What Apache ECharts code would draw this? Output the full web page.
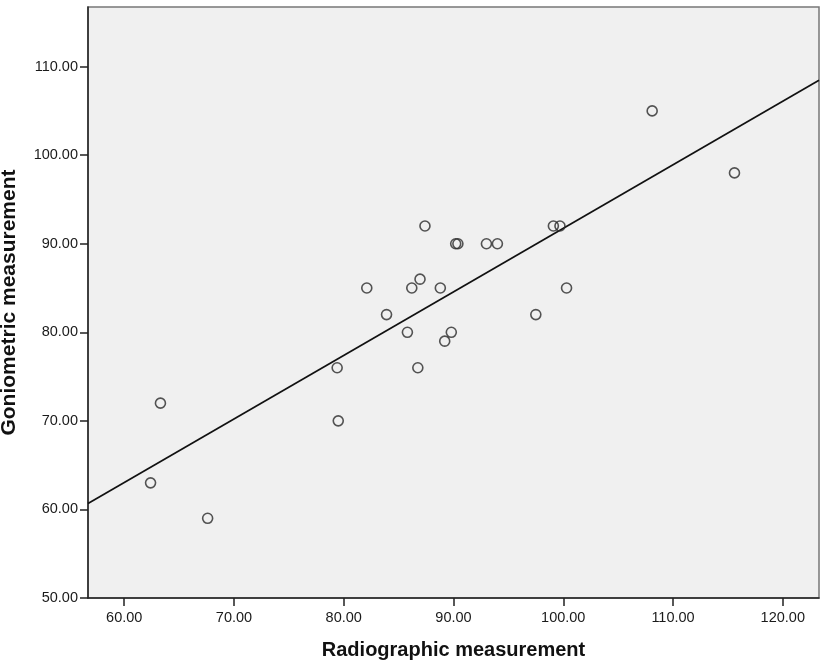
<!DOCTYPE html>
<html>
<head>
<meta charset="utf-8">
<script src="https://cdn.jsdelivr.net/npm/echarts@6/dist/echarts.min.js"></script>
<style>html,body{margin:0;padding:0;background:#fff}#c{width:827px;height:665px}</style>
</head>
<body>
<div id="c"></div>
<script>
const radiographic = [62.4, 63.3, 67.6, 79.4, 79.5, 82.1, 83.9, 85.8, 86.2, 86.95, 86.75, 87.4, 88.8, 89.2, 89.8, 90.2, 90.4, 93.0, 94.0, 97.5, 99.1, 99.7, 100.3, 108.1, 115.6];
const goniometric  = [63, 72, 59, 76, 70, 85, 82, 80, 85, 86, 76, 92, 85, 79, 80, 90, 90, 90, 90, 82, 92, 92, 85, 105, 98];
const fitIntercept = 20.0;
const fitSlope = 0.7175;
const xRange = [56.7, 123.3];
const yRange = [50, 116.73];
const xTicks = [60, 70, 80, 90, 100, 110, 120];
const yTicks = [50, 60, 70, 80, 90, 100, 110];

const points = radiographic.map((x, i) => [x, goniometric[i]]);
const fitLine = xRange.map(x => [x, fitIntercept + fitSlope * x]);

const chart = echarts.init(document.getElementById('c'), null, {renderer: 'canvas'});
const labelFont = {fontFamily: 'Liberation Sans', fontSize: 14.5, color: '#1a1a1a'};
chart.setOption({
  animation: false,
  backgroundColor: '#fff',
  grid: {left: 88, right: 8, top: 7, bottom: 67, outerBoundsMode: 'none', containLabel: false, show: true, backgroundColor: '#f0f0f0', borderColor: '#777', borderWidth: 1.5},
  xAxis: {
    type: 'value', min: xRange[0], max: xRange[1],
    name: 'Radiographic measurement', nameLocation: 'middle', nameGap: 42,
    nameTextStyle: {fontFamily: 'Liberation Sans', fontWeight: 'bold', fontSize: 20, color: '#111'},
    axisLine: {show: true, onZero: false, lineStyle: {color: '#222', width: 1.5}},
    axisTick: {show: true, length: 8, customValues: xTicks, lineStyle: {color: '#222', width: 1.5}},
    axisLabel: Object.assign({margin: 12, customValues: xTicks, formatter: v => v.toFixed(2)}, labelFont),
    splitLine: {show: false}
  },
  yAxis: {
    type: 'value', min: yRange[0], max: yRange[1],
    name: 'Goniometric measurement', nameLocation: 'middle', nameGap: 68, nameRotate: 90,
    nameTextStyle: {fontFamily: 'Liberation Sans', fontWeight: 'bold', fontSize: 21, color: '#111'},
    axisLine: {show: true, onZero: false, lineStyle: {color: '#222', width: 1.5}},
    axisTick: {show: true, length: 8, customValues: yTicks, lineStyle: {color: '#222', width: 1.5}},
    axisLabel: Object.assign({margin: 10, customValues: yTicks, formatter: v => v.toFixed(2)}, labelFont),
    splitLine: {show: false}
  },
  series: [
    {type: 'line', data: fitLine, symbol: 'none', lineStyle: {color: '#111', width: 1.7}, z: 2},
    {type: 'scatter', data: points, symbol: 'circle', symbolSize: 10,
     itemStyle: {color: 'rgba(0,0,0,0)', borderColor: '#2a2a2a', borderWidth: 1.6}, z: 3}
  ]
});
</script>
</body>
</html>
